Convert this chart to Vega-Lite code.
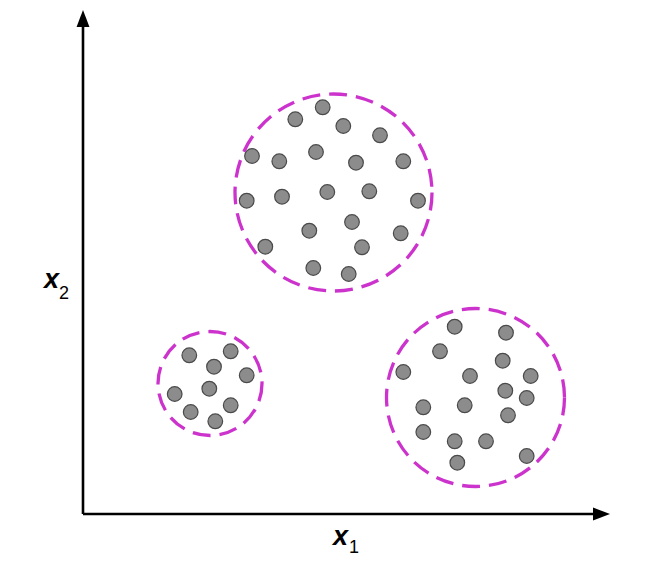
{
  "$schema": "https://vega.github.io/schema/vega-lite/v6.json",
  "width": 668,
  "height": 576,
  "autosize": {"type": "fit", "contains": "padding"},
  "padding": 0,
  "background": "white",
  "config": {"view": {"stroke": null}},
  "datasets": {
    "points": [
      {"x": 239.7, "y": 406.7, "cluster": "A"},
      {"x": 212.3, "y": 394.7, "cluster": "A"},
      {"x": 260.3, "y": 388, "cluster": "A"},
      {"x": 297, "y": 378.7, "cluster": "A"},
      {"x": 169, "y": 358, "cluster": "A"},
      {"x": 196.3, "y": 352.7, "cluster": "A"},
      {"x": 233, "y": 362, "cluster": "A"},
      {"x": 273, "y": 351.3, "cluster": "A"},
      {"x": 320.3, "y": 352.7, "cluster": "A"},
      {"x": 163.7, "y": 313.3, "cluster": "A"},
      {"x": 199, "y": 317.3, "cluster": "A"},
      {"x": 244.3, "y": 322, "cluster": "A"},
      {"x": 286.3, "y": 322.7, "cluster": "A"},
      {"x": 335, "y": 313.3, "cluster": "A"},
      {"x": 269, "y": 292, "cluster": "A"},
      {"x": 226.3, "y": 283.3, "cluster": "A"},
      {"x": 317.7, "y": 280.7, "cluster": "A"},
      {"x": 182.3, "y": 267.3, "cluster": "A"},
      {"x": 279, "y": 266.7, "cluster": "A"},
      {"x": 230.3, "y": 246, "cluster": "A"},
      {"x": 265.7, "y": 240, "cluster": "A"},
      {"x": 106.3, "y": 158.7, "cluster": "B"},
      {"x": 147.7, "y": 162.7, "cluster": "B"},
      {"x": 131, "y": 147.3, "cluster": "B"},
      {"x": 163.7, "y": 138.7, "cluster": "B"},
      {"x": 91.7, "y": 120, "cluster": "B"},
      {"x": 126.3, "y": 125.3, "cluster": "B"},
      {"x": 147.7, "y": 108.7, "cluster": "B"},
      {"x": 107.7, "y": 102, "cluster": "B"},
      {"x": 132.3, "y": 92.7, "cluster": "B"},
      {"x": 371.7, "y": 187.3, "cluster": "C"},
      {"x": 423, "y": 181.3, "cluster": "C"},
      {"x": 357, "y": 162.7, "cluster": "C"},
      {"x": 419.7, "y": 153.3, "cluster": "C"},
      {"x": 320.3, "y": 142, "cluster": "C"},
      {"x": 387, "y": 138, "cluster": "C"},
      {"x": 447.7, "y": 138, "cluster": "C"},
      {"x": 422.3, "y": 123.3, "cluster": "C"},
      {"x": 443.7, "y": 116, "cluster": "C"},
      {"x": 340.3, "y": 106.7, "cluster": "C"},
      {"x": 381.7, "y": 108.7, "cluster": "C"},
      {"x": 425, "y": 98.7, "cluster": "C"},
      {"x": 340.3, "y": 82, "cluster": "C"},
      {"x": 371.7, "y": 72.7, "cluster": "C"},
      {"x": 403, "y": 72.7, "cluster": "C"},
      {"x": 374.3, "y": 51.3, "cluster": "C"},
      {"x": 443.7, "y": 58, "cluster": "C"}
    ],
    "clusters": [
      {"x": 250.5, "y": 321.5, "r": 98.5, "cluster": "A"},
      {"x": 127, "y": 130.5, "r": 52, "cluster": "B"},
      {"x": 392.5, "y": 116.5, "r": 89, "cluster": "C"}
    ],
    "axes": [
      {"x": 0, "y": 0, "x2": 0, "y2": 490},
      {"x": 0, "y": 0, "x2": 512, "y2": 0}
    ],
    "arrowUp": [{"x": 0, "y": 504}],
    "arrowRight": [{"x": 527, "y": 0}],
    "mainLabels": [
      {"x": 250, "y": -31, "label": "x"},
      {"x": -39, "y": 226, "label": "x"}
    ],
    "subLabels": [
      {"x": 266, "y": -39, "label": "1"},
      {"x": -24, "y": 215, "label": "2"}
    ]
  },
  "layer": [
    {
      "data": {"name": "clusters"},
      "mark": {"type": "point", "shape": "circle", "filled": false, "stroke": "#cc33cc", "strokeWidth": 3.3, "strokeDash": [18, 9], "opacity": 1},
      "encoding": {
        "x": {"field": "x", "type": "quantitative", "scale": {"domain": [-83, 585], "nice": false, "zero": false}, "axis": null},
        "y": {"field": "y", "type": "quantitative", "scale": {"domain": [-62, 514], "nice": false, "zero": false}, "axis": null},
        "size": {"field": "r", "type": "quantitative", "scale": {"type": "pow", "exponent": 2, "domain": [0, 100], "range": [0, 40000]}, "legend": null}
      }
    },
    {
      "data": {"name": "points"},
      "mark": {"type": "point", "shape": "circle", "filled": true, "fill": "#8c8c8c", "stroke": "#4a4a4a", "strokeWidth": 1.2, "size": 215, "opacity": 1},
      "encoding": {
        "x": {"field": "x", "type": "quantitative"},
        "y": {"field": "y", "type": "quantitative"}
      }
    },
    {
      "data": {"name": "axes"},
      "mark": {"type": "rule", "color": "black", "strokeWidth": 2.6},
      "encoding": {
        "x": {"field": "x", "type": "quantitative"},
        "y": {"field": "y", "type": "quantitative"},
        "x2": {"field": "x2"},
        "y2": {"field": "y2"}
      }
    },
    {
      "data": {"name": "arrowUp"},
      "mark": {"type": "point", "shape": "M0,0L0.76,2L-0.76,2Z", "filled": true, "fill": "black", "strokeWidth": 0, "size": 289, "opacity": 1},
      "encoding": {
        "x": {"field": "x", "type": "quantitative"},
        "y": {"field": "y", "type": "quantitative"}
      }
    },
    {
      "data": {"name": "arrowRight"},
      "mark": {"type": "point", "shape": "M0,0L-2,-0.76L-2,0.76Z", "filled": true, "fill": "black", "strokeWidth": 0, "size": 289, "opacity": 1},
      "encoding": {
        "x": {"field": "x", "type": "quantitative"},
        "y": {"field": "y", "type": "quantitative"}
      }
    },
    {
      "data": {"name": "mainLabels"},
      "mark": {"type": "text", "font": "Liberation Sans", "fontSize": 27, "fontWeight": "bold", "fontStyle": "italic", "align": "left", "baseline": "alphabetic", "color": "black"},
      "encoding": {
        "x": {"field": "x", "type": "quantitative"},
        "y": {"field": "y", "type": "quantitative"},
        "text": {"field": "label"}
      }
    },
    {
      "data": {"name": "subLabels"},
      "mark": {"type": "text", "font": "Liberation Sans", "fontSize": 18, "align": "left", "baseline": "alphabetic", "color": "black"},
      "encoding": {
        "x": {"field": "x", "type": "quantitative"},
        "y": {"field": "y", "type": "quantitative"},
        "text": {"field": "label"}
      }
    }
  ]
}
